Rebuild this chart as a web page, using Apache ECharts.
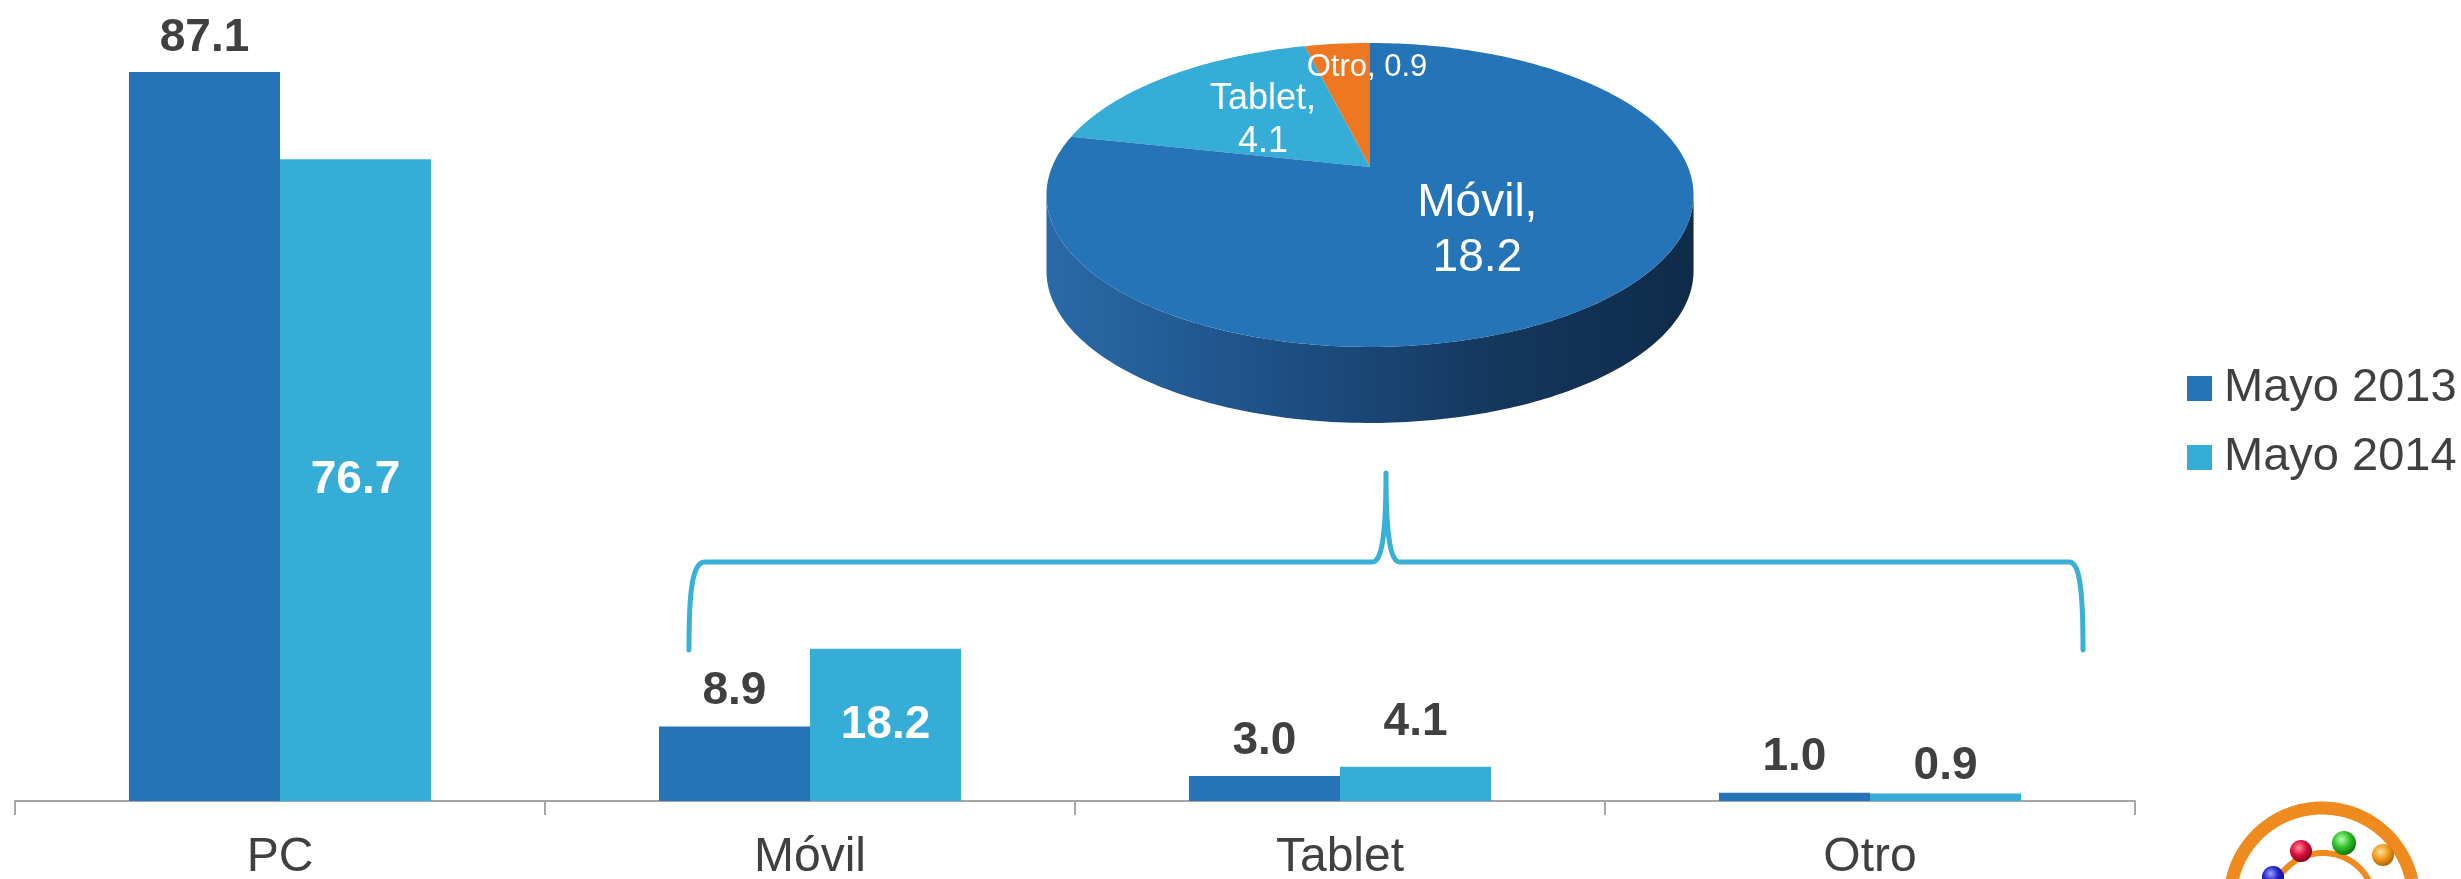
<!DOCTYPE html>
<html>
<head>
<meta charset="utf-8">
<title>Acceso por dispositivo</title>
<script src="https://cdn.jsdelivr.net/npm/echarts@6/dist/echarts.min.js"></script>
<style>
  html, body { margin: 0; padding: 0; background: #ffffff; }
  #chart { width: 2461px; height: 879px; }
</style>
</head>
<body>
<div id="chart"></div>
<script>
// ---- data ----
const categories = ['PC', 'Móvil', 'Tablet', 'Otro'];
const seriesNames = ['Mayo 2013', 'Mayo 2014'];
const mayo2013 = [87.1, 8.9, 3.0, 1.0];
const mayo2014 = [76.7, 18.2, 4.1, 0.9];
const pieNames = ['Móvil', 'Tablet', 'Otro'];
const pieValues = [18.2, 4.1, 0.9];

// ---- styling ----
const FONT = "'Liberation Sans', Arial, sans-serif";
const TEXT = '#404040';
const DARK = '#2674B8';
const LIGHT = '#35ADD7';
const ORANGE = '#EE7722';
const pieColors = [DARK, LIGHT, ORANGE];

// label placement per bar (distance above the bar, or drawn inside)
const labelDist2013 = [11, 12, 12, 12];
const labelInside2014 = [true, true, false, false];
const labelDist2014 = [0, 0, 21, 4];

// pie label placement (radius fraction, nudges) and text layout
const pieLabelPlace = [
  { r: 0.5, dx: 0, dy: 2, size: 46, lh: 55, sep: '\n' },
  { r: 0.5, dx: 0, dy: 2, size: 36, lh: 43, sep: '\n' },
  { r: 0.8, dx: 24, dy: 2, size: 31, lh: 31, sep: ' ' }
];

// perspective disc used for the 3D pie
const DISC = { cx: 1370, cy: 167, A: 318, B: 146.8, k: 0.1842, depth: 76 };
function proj(thetaDeg, r) {
  const t = thetaDeg * Math.PI / 180;
  const u = r * Math.sin(t), v = r * Math.cos(t);
  const w = 1 + DISC.k * v;
  return [DISC.cx + DISC.A * u / w, DISC.cy - DISC.B * v / w];
}

const pieTotal = pieValues.reduce((a, b) => a + b, 0);
const pieStart = [];
(function () {
  let acc = 0;
  pieValues.forEach(v => { pieStart.push(acc / pieTotal * 360); acc += v; });
  pieStart.push(360);
})();

function renderSlice(params, api) {
  const i = params.dataIndex;
  const value = api.value(1);
  const a0 = pieStart[i];
  const a1 = pieStart[i] + value / pieTotal * 360;
  const children = [];

  if (i === 0) {
    // visible side wall of the disc (front half)
    const edge = Math.acos(-DISC.k) * 180 / Math.PI;
    const top = [], bottom = [];
    for (let t = edge; t <= 360 - edge + 0.001; t += 1) {
      const p = proj(t, 1);
      top.push(p);
      bottom.push([p[0], p[1] + DISC.depth]);
    }
    const pts = top.concat(bottom.reverse());
    children.push({
      type: 'polygon',
      z2: 0,
      shape: { points: pts },
      style: {
        fill: {
          type: 'linear', x: 0, y: 0, x2: 1, y2: 0,
          colorStops: [
            { offset: 0, color: '#2a6aa8' },
            { offset: 0.35, color: '#1e5085' },
            { offset: 0.7, color: '#14375d' },
            { offset: 1, color: '#0f2b49' }
          ]
        }
      }
    });
  }

  const pts = [[DISC.cx, DISC.cy]];
  const steps = Math.max(2, Math.ceil(a1 - a0));
  for (let s = 0; s <= steps; s++) {
    pts.push(proj(a0 + (a1 - a0) * s / steps, 1));
  }
  children.push({
    type: 'polygon',
    z2: i === 0 ? 3 : 1,
    shape: { points: pts },
    style: { fill: pieColors[i] }
  });

  const pl = pieLabelPlace[i];
  const mid = (a0 + a1) / 2;
  const lp = proj(mid, pl.r);
  children.push({
    type: 'text',
    z2: i === 1 ? 2 : 4,
    x: lp[0] + pl.dx,
    y: lp[1] + pl.dy,
    style: {
      text: pieNames[i] + ',' + pl.sep + value.toFixed(1),
      fill: '#ffffff',
      font: pl.size + 'px ' + FONT,
      lineHeight: pl.lh,
      align: 'center',
      verticalAlign: 'middle'
    }
  });
  return { type: 'group', children: children };
}

function radial(c0, c1, c2) {
  return {
    type: 'radial', x: 0.4, y: 0.35, r: 0.7,
    colorStops: [{ offset: 0, color: c0 }, { offset: 0.5, color: c1 }, { offset: 1, color: c2 }]
  };
}

// points along a circular arc (canvas angles in degrees, y pointing down)
function arcPoints(cx, cy, r, d0, d1) {
  const out = [];
  const n = Math.max(4, Math.ceil(Math.abs(d1 - d0) / 2));
  for (let s = 0; s <= n; s++) {
    const a = (d0 + (d1 - d0) * s / n) * Math.PI / 180;
    out.push([cx + r * Math.cos(a), cy + r * Math.sin(a)]);
  }
  return out;
}

// points along a cubic Bezier segment
function cubic(p0, p1, p2, p3, n) {
  const out = [];
  for (let s = 0; s <= n; s++) {
    const t = s / n, m = 1 - t;
    out.push([
      m * m * m * p0[0] + 3 * m * m * t * p1[0] + 3 * m * t * t * p2[0] + t * t * t * p3[0],
      m * m * m * p0[1] + 3 * m * m * t * p1[1] + 3 * m * t * t * p2[1] + t * t * t * p3[1]
    ]);
  }
  return out;
}

// curly bracket above Móvil / Tablet / Otro
const bracketPoints = [].concat(
  cubic([689, 650], [689, 592], [692, 562], [705, 562], 24),
  cubic([1372, 562], [1381, 562], [1386, 540], [1386, 473], 24),
  cubic([1386, 473], [1386, 540], [1391, 562], [1400, 562], 24),
  cubic([2069, 562], [2080, 562], [2083, 592], [2083, 650], 24)
);

const chart = echarts.init(document.getElementById('chart'), null, { renderer: 'canvas' });

const barSeries = [
  {
    name: seriesNames[0],
    type: 'bar',
    barGap: '0%',
    barCategoryGap: '43%',
    itemStyle: { color: DARK },
    data: mayo2013.map((v, i) => ({
      value: v,
      label: {
        show: true, position: 'top', distance: labelDist2013[i],
        fontSize: 46, fontWeight: 'bold', color: TEXT, fontFamily: FONT,
        formatter: p => p.value.toFixed(1)
      }
    }))
  },
  {
    name: seriesNames[1],
    type: 'bar',
    barGap: '0%',
    barCategoryGap: '43%',
    itemStyle: { color: LIGHT },
    data: mayo2014.map((v, i) => ({
      value: v,
      label: labelInside2014[i]
        ? { show: true, position: 'inside', fontSize: 46, fontWeight: 'bold', color: '#ffffff',
            fontFamily: FONT, formatter: p => p.value.toFixed(1) }
        : { show: true, position: 'top', distance: labelDist2014[i], fontSize: 46,
            fontWeight: 'bold', color: TEXT, fontFamily: FONT, formatter: p => p.value.toFixed(1) }
    }))
  }
];

// 3D pie of the 2014 mobile split, drawn on its own hidden grid in pixel space
const pieSeries = {
  name: 'Móviles 2014',
  type: 'custom',
  xAxisIndex: 1,
  yAxisIndex: 1,
  silent: true,
  clip: false,
  data: pieValues.map((v, i) => [i, v]),
  renderItem: renderSlice
};

const option = {
  backgroundColor: '#ffffff',
  animation: false,
  textStyle: { fontFamily: FONT },
  grid: [
    { left: 15, right: 326, top: 6, bottom: 78, outerBoundsMode: 'none' },
    { left: 1040, width: 660, top: 40, height: 390, show: false, outerBoundsMode: 'none' }
  ],
  legend: {
    data: seriesNames,
    orient: 'vertical',
    left: 2182,
    top: 360,
    itemWidth: 25,
    itemHeight: 25,
    itemGap: 22,
    icon: 'rect',
    selectedMode: false,
    textStyle: { fontSize: 47, color: TEXT, lineHeight: 47, padding: [0, 0, 0, 7], fontFamily: FONT }
  },
  xAxis: [
    {
      type: 'category',
      data: categories,
      axisLine: { lineStyle: { color: '#A6A6A6', width: 2 } },
      axisTick: { show: true, length: 14, lineStyle: { color: '#A6A6A6', width: 2 } },
      axisLabel: { fontSize: 48, color: TEXT, margin: 33, fontFamily: FONT }
    },
    { type: 'value', gridIndex: 1, show: false, min: 0, max: 3 }
  ],
  yAxis: [
    { type: 'value', min: 0, max: 95, show: false, splitLine: { show: false } },
    { type: 'value', gridIndex: 1, show: false, min: 0, max: 20 }
  ],
  series: barSeries.concat([pieSeries]),
  graphic: [
    {
      type: 'polyline',
      shape: { points: bracketPoints },
      style: { stroke: '#38B0D8', lineWidth: 5, fill: null, lineCap: 'round', lineJoin: 'round' }
    },
    // logo in the bottom-right corner
    {
      type: 'group',
      children: [
        { type: 'polyline', shape: { points: arcPoints(2322, 900, 92, 180, 347) },
          style: { stroke: '#EE8A1E', lineWidth: 13, fill: null } },
        { type: 'polyline', shape: { points: arcPoints(2322, 900, 92, 347, 362) },
          style: { stroke: '#8C9AA0', lineWidth: 13, fill: null } },
        { type: 'polyline', shape: { points: arcPoints(2323, 905, 52, 202, 333) },
          style: { stroke: '#EE8A1E', lineWidth: 6, fill: null } },
        { type: 'circle', shape: { cx: 2301, cy: 851, r: 11 }, style: { fill: radial('#ff8aa0', '#d8103c', '#7a0018') } },
        { type: 'circle', shape: { cx: 2344, cy: 843, r: 12 }, style: { fill: radial('#b8ffb0', '#2ec02a', '#0d6a0a') } },
        { type: 'circle', shape: { cx: 2383, cy: 855, r: 11 }, style: { fill: radial('#ffe0a0', '#f29a1c', '#a85a00') } },
        { type: 'circle', shape: { cx: 2273, cy: 877, r: 11 }, style: { fill: radial('#a0a0ff', '#2222cc', '#0a0a70') } }
      ]
    }
  ]
};

chart.setOption(option);
</script>
</body>
</html>
